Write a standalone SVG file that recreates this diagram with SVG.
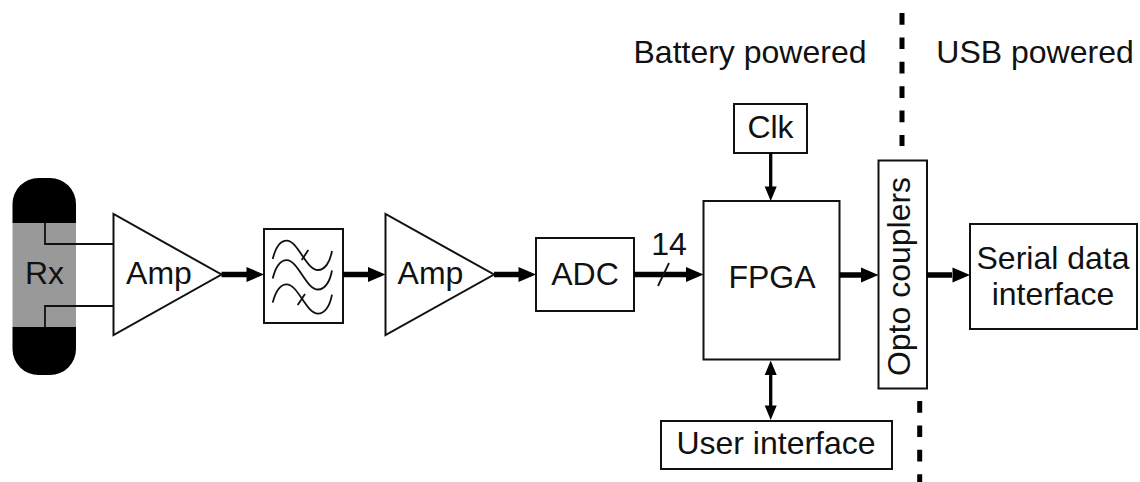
<svg xmlns="http://www.w3.org/2000/svg" width="1140" height="482" viewBox="0 0 1140 482">
<style>
text{font-family:"Liberation Sans",Arial,sans-serif;font-size:32px;fill:#111;text-anchor:middle}
.b{fill:#fff;stroke:#111;stroke-width:2}
.w{fill:none;stroke:#111;stroke-width:1.8}
.a{fill:none;stroke:#000;stroke-width:5.500}
.t{fill:none;stroke:#000;stroke-width:3.300}
.d{fill:none;stroke:#000;stroke-width:5;stroke-dasharray:11.7 12.7}
.h{fill:#000}
</style>
<defs>
<path id="ah" class="h" d="M0 0L-17.500 -7.500V7.500Z"/>
<path id="wave" class="w" d="M272.700 259C276 246 281 240.700 286.700 240.700C298 240.700 306 270 318 270C325 270 330 262 332 251"/>
</defs>
<g id="rx">
<path d="M12.500 223V204A26 26 0 0 1 38.500 178H50A26 26 0 0 1 76 204V223Z" fill="#000"/>
<path d="M12.500 327V349A26 26 0 0 0 38.500 375H50A26 26 0 0 0 76 349V327Z" fill="#000"/>
<rect x="12.500" y="223" width="63.500" height="104" fill="#999"/>
<text x="44.500" y="284">Rx</text>
</g>
<g id="amp1">
<path class="b" d="M113.500 214V335L221.500 274.500Z"/>
<text x="159" y="284">Amp</text>
</g>
<g id="filter">
<rect class="b" x="264" y="229" width="79" height="94"/>
<use href="#wave"/>
<use href="#wave" y="19.500"/>
<use href="#wave" y="43.600"/>
<path class="w" d="M301.700 260L308.300 250M297.700 305L305 294"/>
</g>
<g id="amp2">
<path class="b" d="M385.500 214V335L494 274.500Z"/>
<text x="430.500" y="284">Amp</text>
</g>
<g id="adc">
<rect class="b" x="536" y="238" width="98" height="73"/>
<text x="585" y="285">ADC</text>
</g>
<g id="fpga">
<rect class="b" x="703.500" y="201" width="136" height="158.500"/>
<text x="772" y="287.500">FPGA</text>
</g>
<g id="clk">
<rect class="b" x="734" y="104" width="73" height="49"/>
<text x="770.500" y="138">Clk</text>
</g>
<g id="ui">
<rect class="b" x="661" y="421" width="231" height="48"/>
<text x="776" y="453.500">User interface</text>
</g>
<g id="opto">
<rect class="b" x="878.500" y="160.500" width="48.500" height="228"/>
<text transform="translate(909.500 276.500) rotate(-90)">Opto couplers</text>
</g>
<g id="serial">
<rect class="b" x="970" y="224" width="167" height="105"/>
<text x="1053" y="268.500">Serial data</text>
<text x="1053" y="305">interface</text>
</g>
<g id="labels">
<text x="750" y="62.500">Battery powered</text>
<text x="1035" y="62.500">USB powered</text>
<text x="669" y="255">14</text>
</g>
<g id="connectors">
<path class="w" d="M45 223V244H113.500M45 327V306H113.500"/>
<path class="a" d="M221.500 274.500H248M343 274.500H370M494 274.500H520M634 274.500H688M839.500 275H864M927 275H952"/>
<use href="#ah" x="264" y="274.500"/>
<use href="#ah" x="385.500" y="274.500"/>
<use href="#ah" x="536" y="274.500"/>
<use href="#ah" x="703.500" y="274.500"/>
<use href="#ah" x="878.500" y="275"/>
<use href="#ah" x="970" y="275"/>
<path class="w" d="M658 286L669 263"/>
<path class="t" d="M770.700 153V188M770.700 374V406"/>
<path class="h" d="M770.700 201L764.700 186.500H776.700ZM770.700 360.500L764.700 375H776.700ZM770.700 420L764.700 405.500H776.700Z"/>
<path class="d" d="M902 13V146M919.700 401V482"/>
</g>
</svg>
